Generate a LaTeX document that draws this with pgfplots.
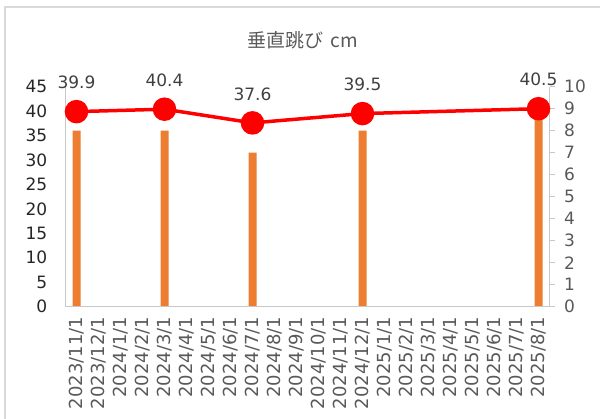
\documentclass[border=0pt]{standalone}
\usepackage{pgfplots}
\pgfplotsset{compat=1.18}
\usepackage{fontspec}
\setmainfont{DejaVu Sans}
\newfontfamily\cjk{Noto Sans CJK JP}
\definecolor{barorange}{HTML}{ED7D31}
\definecolor{linered}{HTML}{FF0000}
\definecolor{axisgray}{HTML}{C8C8C8}
\definecolor{bordergray}{HTML}{D9D9D9}
\definecolor{labgray}{HTML}{595959}
\definecolor{datgray}{HTML}{404040}
\begin{document}
\begin{tikzpicture}
\useasboundingbox (0pt,0pt) rectangle (600pt,419pt);
\draw[bordergray, line width=1.3pt] (5pt,-20pt) -- (5pt,412pt) -- (620pt,412pt);
\node[font=\cjk\fontsize{19}{22}\selectfont, text=labgray] at (303pt,378.5pt) {垂直跳び\kern7pt cm};
\begin{axis}[
  at={(65.5pt,112.3pt)}, anchor=south west,
  scale only axis, width=484pt, height=220pt,
  xmin=-0.5, xmax=21.5, ymin=0, ymax=10,
  axis x line=none, axis y line*=right,
  ytick={0,...,10},
  tick align=outside, major tick length=5pt,
  major tick style={axisgray, line width=1pt},
  axis line style={axisgray, line width=1pt, -},
  yticklabel style={font=\fontsize{17}{20}\selectfont, text=labgray, inner sep=0pt, anchor=west},
  yticklabel shift=9.5pt,
  /pgf/number format/assume math mode=true,
]
\addplot[ybar, bar width=8pt, fill=barorange, draw=none] coordinates {(0,8) (4,8) (8,7) (13,8) (21,9)};
\end{axis}
\begin{axis}[
  at={(65.5pt,112.3pt)}, anchor=south west,
  scale only axis, width=484pt, height=220pt,
  xmin=-0.5, xmax=21.5, ymin=0, ymax=45,
  axis x line*=bottom, axis y line*=left,
  axis line style={axisgray, line width=1pt, -},
  major tick length=0pt,
  ytick={0,5,...,45},
  xtick={0,...,21},
  xticklabels={2023/11/1,2023/12/1,2024/1/1,2024/2/1,2024/3/1,2024/4/1,2024/5/1,2024/6/1,2024/7/1,2024/8/1,2024/9/1,2024/10/1,2024/11/1,2024/12/1,2025/1/1,2025/2/1,2025/3/1,2025/4/1,2025/5/1,2025/6/1,2025/7/1,2025/8/1},
  xticklabel style={rotate=90, anchor=east, inner sep=0pt, font=\fontsize{18}{20}\selectfont, text=labgray},
  xticklabel shift=10pt,
  yticklabel style={font=\fontsize{17}{20}\selectfont, text=black!85, inner sep=0pt, anchor=east},
  yticklabel shift=18pt,
  /pgf/number format/assume math mode=true,
  clip=false,
]
\addplot[linered, line width=3.5pt, mark=*, mark size=10pt, mark options={fill=linered, draw=none},
  nodes near coords,
  every node near coord/.append style={anchor=center, yshift=29pt, font=\fontsize{17}{20}\selectfont, text=datgray}]
  coordinates {(0,39.9) (4,40.4) (8,37.6) (13,39.5) (21,40.5)};
\end{axis}
\end{tikzpicture}
\end{document}
